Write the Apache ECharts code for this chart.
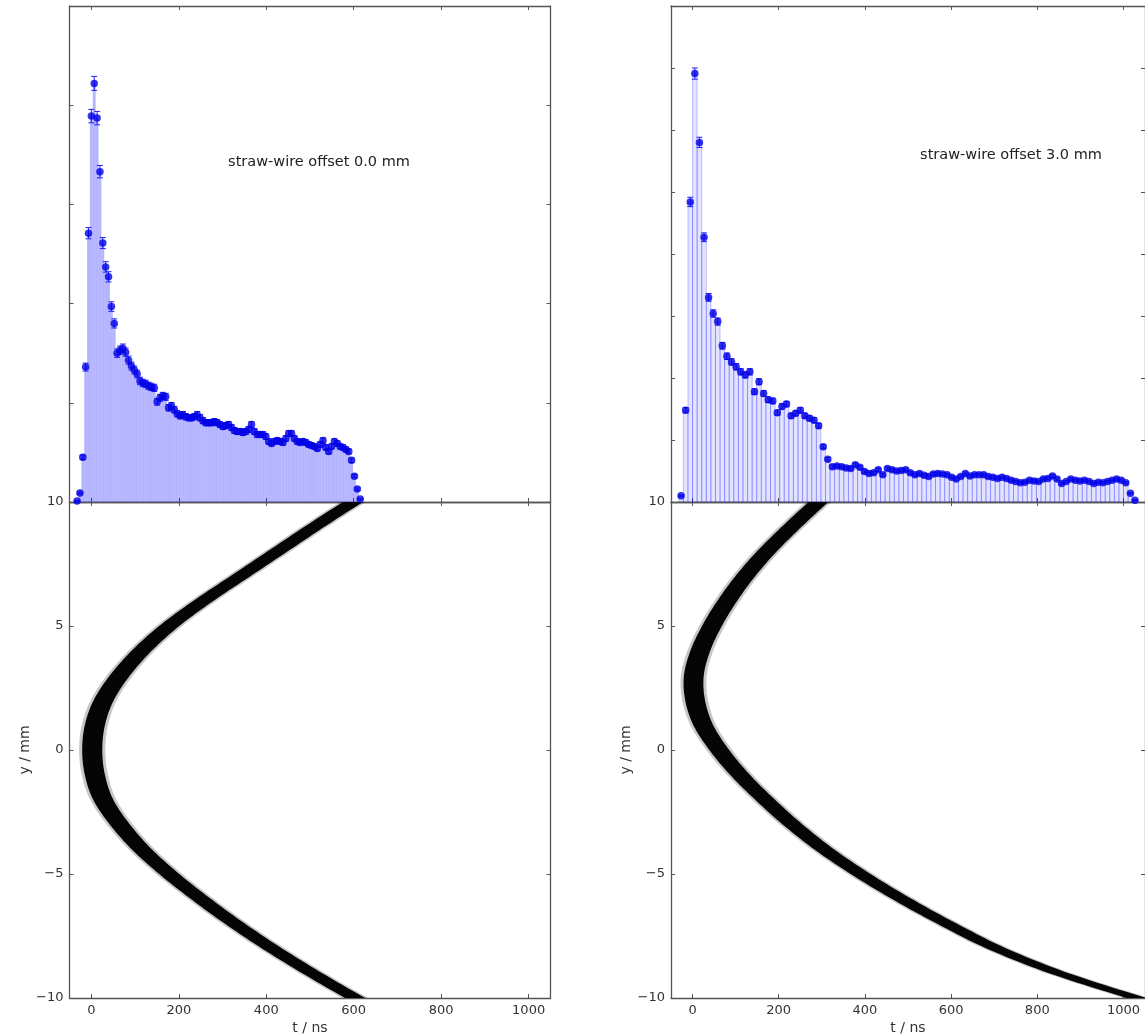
<!DOCTYPE html>
<html>
<head>
<meta charset="utf-8">
<script src="https://cdn.jsdelivr.net/npm/echarts@6/dist/echarts.min.js"></script>
<style>
html,body{margin:0;padding:0;background:#fff;}
#chart{width:1145px;height:1036px;}
</style>
</head>
<body>
<div id="chart"></div>
<script>
// ---------------- DATA ----------------
const T_TICKS = [0, 200, 400, 600, 800, 1000];

// histogram of drift times, offset 0.0 mm (100 bins)
const LEFT_BIN_START = -32.7;   // centre of first bin, ns
const LEFT_BIN_WIDTH = 6.54;    // ns
const leftCounts = [
  1, 9, 45, 136, 271, 389, 422, 387, 333, 261,
  237, 227, 197, 180, 150, 153, 155, 151, 143, 137,
  133, 129, 122, 120, 119, 117, 116, 115, 101, 105,
  107, 106, 95, 97, 93, 89, 87, 88, 86, 85,
  85, 86, 88, 85, 82, 80, 80, 80, 81, 80,
  78, 76, 77, 78, 75, 72, 71, 71, 70, 71,
  73, 78, 71, 68, 68, 68, 66, 61, 59, 61,
  62, 61, 60, 64, 69, 69, 64, 61, 60, 61,
  60, 58, 57, 56, 54, 58, 62, 55, 51, 56,
  61, 59, 56, 55, 53, 51, 42, 26, 13, 3
];

// histogram of drift times, offset 3.0 mm (100 bins)
const RIGHT_BIN_START = -26.6;
const RIGHT_BIN_WIDTH = 10.64;
const rightCounts = [
  10, 148, 484, 691, 580, 427, 330, 304, 291, 252,
  235, 226, 218, 210, 205, 210, 178, 194, 175, 165,
  163, 144, 154, 158, 139, 143, 148, 139, 135, 132,
  123, 89, 69, 57, 58, 57, 55, 54, 60, 56,
  49, 46, 47, 52, 44, 54, 52, 50, 51, 52,
  47, 44, 46, 43, 41, 45, 46, 45, 44, 40,
  37, 41, 46, 42, 44, 44, 44, 41, 40, 38,
  40, 38, 35, 33, 31, 32, 35, 34, 33, 37,
  38, 42, 37, 30, 33, 37, 35, 34, 35, 33,
  30, 32, 31, 33, 35, 37, 35, 31, 14, 3
];

// track position y (mm) vs drift time t (ns): centre line of the band
const bandY = [10, 9, 8, 7, 6, 5, 4, 3, 2, 1, 0, -1, -2, -3, -4, -5, -6, -7, -8, -9, -10];
const leftBandT = [598, 510, 425, 340, 255, 178, 115, 65, 28, 8, 2, 8, 27, 65, 115, 178, 250, 328, 413, 505, 603];
const rightBandT = [292, 230, 172, 122, 80, 45, 18, 3, 6, 25, 62, 110, 168, 232, 305, 390, 485, 590, 705, 850, 1030];

const labels = ['straw-wire offset 0.0 mm', 'straw-wire offset 3.0 mm'];

// ---------------- STYLE / LAYOUT ----------------
const FONT = 'DejaVu Sans';
const AXIS_COLOR = '#555';
const TEXT_COLOR = '#333';
const COUNTS_PER_UNIT = 8.5;   // Poisson error scale
const BAND_CORE_HW = 23;       // ns
const BAND_FUZZ_HW = 30;       // ns

const chart = echarts.init(document.getElementById('chart'), null, {renderer: 'canvas'});

const grids = [
  {left: 69.5, top: 6, width: 481, height: 496},
  {left: 69.5, top: 502, width: 481, height: 498},
  {left: 671, top: 6, width: 479, height: 496},
  {left: 671, top: 502, width: 479, height: 498}
];

function xAxis(gi, pos, showLabel) {
  return {
    type: 'value', gridIndex: gi, position: pos, min: -50, max: 1050,
    name: showLabel ? 't / ns' : '', nameLocation: 'middle', nameGap: 23,
    nameTextStyle: {fontFamily: FONT, fontSize: 14, color: TEXT_COLOR},
    axisLine: {show: true, onZero: false, lineStyle: {color: AXIS_COLOR, width: 1.3}},
    axisTick: {show: true, inside: true, length: 4, customValues: T_TICKS, lineStyle: {color: AXIS_COLOR}},
    axisLabel: {show: showLabel, customValues: T_TICKS, margin: 6, fontFamily: FONT, fontSize: 13, color: TEXT_COLOR,
      formatter: v => String(v)},
    splitLine: {show: false}
  };
}
function yAxis(gi, pos, min, max, interval, showLabel) {
  return {
    type: 'value', gridIndex: gi, position: pos, min: min, max: max, interval: interval,
    name: showLabel ? 'y / mm' : '', nameLocation: 'middle', nameGap: 30, nameRotate: 90,
    nameTextStyle: {fontFamily: FONT, fontSize: 14, color: TEXT_COLOR},
    axisLine: {show: true, onZero: false, lineStyle: {color: AXIS_COLOR, width: 1.3}},
    axisTick: {show: true, inside: true, length: 4, lineStyle: {color: AXIS_COLOR}},
    axisLabel: {show: showLabel, margin: 6, fontFamily: FONT, fontSize: 13, color: TEXT_COLOR,
      formatter: v => v < 0 ? '\u2212' + Math.abs(v) : String(v)},
    splitLine: {show: false}
  };
}

const xAxes = [], yAxes = [];
[0, 1, 2, 3].forEach(gi => {
  xAxes.push(xAxis(gi, 'bottom', gi === 1 || gi === 3));
  xAxes.push(xAxis(gi, 'top', false));
});
yAxes.push(yAxis(0, 'left', 0, 500, 100, false));
yAxes.push(yAxis(0, 'right', 0, 500, 100, false));
yAxes.push(yAxis(1, 'left', -10, 10, 5, true));
yAxes.push(yAxis(1, 'right', -10, 10, 5, false));
yAxes.push(yAxis(2, 'left', 0, 800, 100, false));
yAxes.push(yAxis(2, 'right', 0, 800, 100, false));
yAxes.push(yAxis(3, 'left', -10, 10, 5, true));
yAxes.push(yAxis(3, 'right', -10, 10, 5, false));

function histData(start, width, counts) {
  return counts.map((c, i) => [start + i * width, c]);
}

function histSeries(axisIdx, width, counts, start, fill, stroke) {
  const data = histData(start, width, counts);
  return [
    {
      type: 'custom', xAxisIndex: axisIdx.x, yAxisIndex: axisIdx.y, clip: true, z: 1,
      data: data,
      renderItem: (params, api) => {
        const t = api.value(0), v = api.value(1);
        const p0 = api.coord([t - width / 2, 0]);
        const p1 = api.coord([t + width / 2, v]);
        return {type: 'rect', shape: {x: p0[0], y: p1[1], width: p1[0] - p0[0], height: p0[1] - p1[1]},
          style: {fill: fill, stroke: stroke, lineWidth: stroke ? 1 : 0}};
      }
    },
    {
      type: 'custom', xAxisIndex: axisIdx.x, yAxisIndex: axisIdx.y, clip: false, z: 3,
      data: data,
      renderItem: (params, api) => {
        const t = api.value(0), v = api.value(1);
        const err = Math.sqrt(v * COUNTS_PER_UNIT) / COUNTS_PER_UNIT;
        const a = api.coord([t, v + err]), b = api.coord([t, Math.max(0, v - err)]);
        const c = 3;
        return {type: 'group', children: [
          {type: 'line', shape: {x1: a[0], y1: a[1], x2: b[0], y2: b[1]}, style: {stroke: '#2020ff', lineWidth: 1}},
          {type: 'line', shape: {x1: a[0] - c, y1: a[1], x2: a[0] + c, y2: a[1]}, style: {stroke: '#2020ff', lineWidth: 1}},
          {type: 'line', shape: {x1: b[0] - c, y1: b[1], x2: b[0] + c, y2: b[1]}, style: {stroke: '#2020ff', lineWidth: 1}}
        ]};
      }
    },
    {
      type: 'scatter', xAxisIndex: axisIdx.x, yAxisIndex: axisIdx.y, z: 4,
      data: data, symbol: 'circle', symbolSize: 7.5,
      itemStyle: {color: '#0000e6'}, silent: true
    }
  ];
}

// Catmull-Rom smoothing of the drawn outline (display only)
function smoothPath(ys, ts) {
  const out = [];
  const n = ys.length;
  const P = k => [ts[Math.max(0, Math.min(n - 1, k))], ys[Math.max(0, Math.min(n - 1, k))]];
  for (let i = 0; i < n - 1; i++) {
    const p0 = P(i - 1), p1 = P(i), p2 = P(i + 1), p3 = P(i + 2);
    const steps = 12;
    for (let s = 0; s < steps; s++) {
      const u = s / steps, u2 = u * u, u3 = u2 * u;
      const f = (a, b, c, d) => 0.5 * ((2 * b) + (-a + c) * u + (2 * a - 5 * b + 4 * c - d) * u2 + (-a + 3 * b - 3 * c + d) * u3);
      out.push([f(p0[0], p1[0], p2[0], p3[0]), f(p0[1], p1[1], p2[1], p3[1])]);
    }
  }
  out.push([ts[n - 1], ys[n - 1]]);
  return out;
}

function bandSeries(axisIdx, ys, ts) {
  const path = smoothPath(ys, ts);
  const mk = (api, hw) => {
    const pts = [];
    for (let k = 0; k < path.length; k++) pts.push(api.coord([path[k][0] - hw, path[k][1]]));
    for (let k = path.length - 1; k >= 0; k--) pts.push(api.coord([path[k][0] + hw, path[k][1]]));
    return pts;
  };
  return {
    type: 'custom', xAxisIndex: axisIdx.x, yAxisIndex: axisIdx.y, clip: true, z: 2,
    data: [[ts[0], ys[0]]],
    renderItem: (params, api) => ({
      type: 'group', children: [
        {type: 'polygon', shape: {points: mk(api, BAND_FUZZ_HW)}, style: {fill: 'rgba(0,0,0,0.22)'}},
        {type: 'polygon', shape: {points: mk(api, BAND_CORE_HW)}, style: {fill: '#050505'}}
      ]
    })
  };
}

const series = [].concat(
  histSeries({x: 0, y: 0}, LEFT_BIN_WIDTH, leftCounts, LEFT_BIN_START, 'rgba(0,0,255,0.29)', null),
  histSeries({x: 4, y: 4}, RIGHT_BIN_WIDTH, rightCounts, RIGHT_BIN_START, 'rgba(0,0,255,0.11)', 'rgba(0,0,255,0.22)'),
  [bandSeries({x: 2, y: 2}, bandY, leftBandT), bandSeries({x: 6, y: 6}, bandY, rightBandT)]
);

chart.setOption({
  animation: false,
  backgroundColor: '#fff',
  grid: grids,
  xAxis: xAxes,
  yAxis: yAxes,
  series: series,
  graphic: [
    {type: 'text', x: 319, y: 162, style: {text: labels[0], textAlign: 'center', textVerticalAlign: 'middle', fontFamily: FONT, fontSize: 14.5, fill: '#222'}},
    {type: 'text', x: 1011, y: 155, style: {text: labels[1], textAlign: 'center', textVerticalAlign: 'middle', fontFamily: FONT, fontSize: 14.5, fill: '#222'}}
  ]
});
</script>
</body>
</html>
